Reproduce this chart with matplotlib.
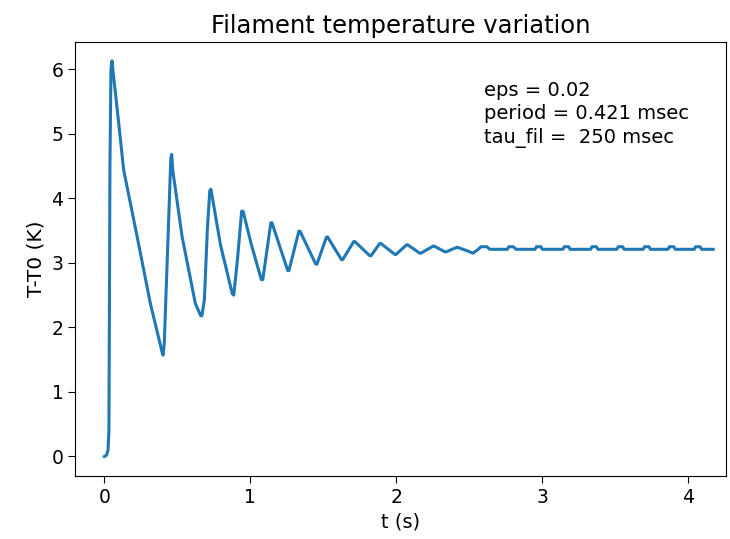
import matplotlib
matplotlib.use("Agg")
import matplotlib.pyplot as plt

# Time (s) and temperature rise (K)
t = [0.0, 0.015, 0.025, 0.031, 0.034, 0.038, 0.045, 0.052, 0.06,
     0.096, 0.132, 0.224, 0.315, 0.395, 0.402, 0.41, 0.445, 0.455, 0.461,
     0.468, 0.532, 0.623, 0.66, 0.668, 0.685, 0.705, 0.722, 0.73,
     0.795, 0.876, 0.886, 0.911, 0.94, 0.95, 1.007, 1.075, 1.085,
     1.14, 1.148, 1.256, 1.264, 1.332, 1.34, 1.448, 1.456, 1.521, 1.529,
     1.624, 1.632, 1.708, 1.716, 1.818, 1.826, 1.886, 1.894, 1.99, 1.997,
     2.07, 2.077, 2.16, 2.168, 2.252, 2.259, 2.333, 2.34, 2.413, 2.42,
     2.493, 2.525, 2.56, 2.58, 2.62, 2.64,
     2.76, 2.77, 2.80, 2.82, 2.95, 2.96, 2.99, 3.00,
     3.14, 3.15, 3.18, 3.19, 3.33, 3.34, 3.37, 3.38,
     3.51, 3.52, 3.55, 3.56, 3.69, 3.70, 3.73, 3.74,
     3.86, 3.87, 3.90, 3.91, 4.04, 4.05, 4.08, 4.09, 4.17]
T = [0.0, 0.02, 0.1, 0.4, 2.0, 4.5, 6.0, 6.13, 5.95,
     5.21, 4.44, 3.41, 2.37, 1.62, 1.57, 1.75, 3.97, 4.62, 4.68,
     4.44, 3.41, 2.37, 2.18, 2.18, 2.43, 3.51, 4.12, 4.14,
     3.28, 2.52, 2.50, 3.04, 3.80, 3.80, 3.28, 2.74, 2.74,
     3.62, 3.62, 2.88, 2.88, 3.49, 3.49, 2.98, 2.98, 3.40, 3.40,
     3.05, 3.05, 3.33, 3.33, 3.11, 3.11, 3.30, 3.30, 3.13, 3.13,
     3.28, 3.28, 3.15, 3.15, 3.26, 3.26, 3.17, 3.17, 3.24, 3.24,
     3.18, 3.15, 3.21, 3.25, 3.25, 3.21,
     3.21, 3.25, 3.25, 3.21, 3.21, 3.25, 3.25, 3.21,
     3.21, 3.25, 3.25, 3.21, 3.21, 3.25, 3.25, 3.21,
     3.21, 3.25, 3.25, 3.21, 3.21, 3.25, 3.25, 3.21,
     3.21, 3.25, 3.25, 3.21, 3.21, 3.25, 3.25, 3.21, 3.21]

title = "Filament temperature variation"
xlabel = "t (s)"
ylabel = "T-T0 (K)"
note = "eps = 0.02\nperiod = 0.421 msec\ntau_fil =  250 msec"
xticks = [0, 1, 2, 3, 4]
yticks = [0, 1, 2, 3, 4, 5, 6]

plt.rcParams['font.family'] = ['DejaVu Sans']
fig = plt.figure(figsize=(7.30, 5.39), dpi=100)
ax = fig.add_axes([0.103, 0.116, 0.892, 0.807])
ax.plot(t, T, color='#1f77b4', lw=2.2)
ax.set_xlim(-0.2, 4.26)
ax.set_ylim(-0.31, 6.43)
ax.set_title(title, fontsize=17.5, pad=6)
ax.set_xlabel(xlabel, fontsize=14)
ax.set_ylabel(ylabel, fontsize=14.5)
ax.tick_params(labelsize=13.5, length=5)
ax.set_xticks(xticks)
ax.set_yticks(yticks)
ax.text(2.6, 5.82, note, fontsize=14, va='top', ha='left', linespacing=1.3)
fig.savefig("out.png", dpi=100)
